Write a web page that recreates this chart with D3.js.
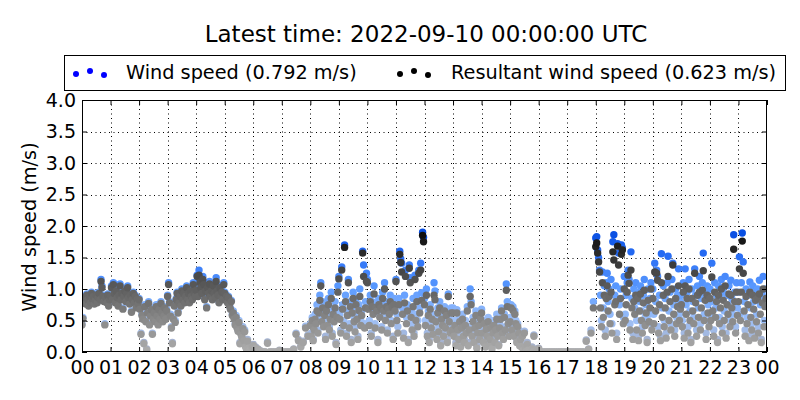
<!DOCTYPE html>
<html>
<head>
<meta charset="utf-8">
<script src="https://d3js.org/d3.v7.min.js"></script>
<style>
  body { margin: 0; background: #fff; }
  svg text { font-family: "DejaVu Sans", sans-serif; fill: #000; }
</style>
</head>
<body>
<svg id="chart" width="800" height="400"></svg>
<script>
// values, one row per hour (00 .. 23)
const windSpeed = [
  [0.45,0.55,0.82,0.88,0.78,0.92,0.85,0.75,0.9,0.8,0.95,0.86,0.9,0.78,0.84,0.92,0.8,0.88,0.95,0.85,1.15,1.05,0.9,0.82,0.45,0.88,0.8,0.92,0.75,0.85],
  [0.9,1.05,0.85,1.1,0.95,0.8,1.0,0.88,0.75,0.92,1.08,0.85,0.95,0.7,0.9,1.0,0.82,0.95,1.05,0.88,0.78,0.92,0.65,0.85,0.95,0.8,0.9,0.72,0.85,0.78],
  [0.85,0.7,0.3,0.6,0.55,0.15,0.75,0.5,0.05,0.65,0.8,0.45,0.6,0.7,0.3,0.55,0.65,0.5,0.75,0.6,0.45,0.7,0.55,0.8,0.65,0.5,0.6,0.72,0.55,0.68],
  [0.9,1.1,0.8,0.6,0.4,0.15,0.55,0.75,0.5,0.85,0.95,0.65,0.8,0.9,0.75,1.0,0.85,0.95,0.8,0.9,1.05,0.85,0.95,0.8,1.0,0.9,0.85,1.1,0.95,0.9],
  [1.0,1.22,0.9,1.3,1.15,1.05,0.95,1.2,1.1,0.85,1.0,0.72,1.05,0.95,1.12,0.9,1.0,0.85,1.08,0.95,0.88,1.18,1.0,0.92,0.8,1.05,0.9,0.98,0.85,1.1],
  [0.95,0.85,0.9,0.8,0.88,0.75,0.7,0.82,0.6,0.65,0.55,0.45,0.58,0.4,0.35,0.5,0.15,0.3,0.25,0.4,0.2,0.35,0.1,0.05,0.2,0.08,0.03,0.02,0.05,0.1],
  [0.12,0.08,0.05,0.02,0,0,0.16,0,0,0,0,0.03],
  [0,0,0,0,0,0.05,0.3,0.2,0.1,0.17,0.41,0.27],
  [0.45,0.3,0.55,0.2,0.4,0.6,0.5,0.75,0.35,0.7,0.9,1.1,0.55,0.8,0.45,0.65,0.25,0.72,0.5,0.85,0.4,0.6,0.95,0.3,0.7,0.55,0.8,0.15,0.65,1.05],
  [1.2,0.6,0.35,1.35,0.75,0.5,1.7,0.9,0.3,0.65,1.15,0.45,0.8,0.2,0.7,0.95,0.55,0.4,0.85,0.6,0.25,0.75,1.0,0.5,0.65,1.6,1.38,0.45,0.8,1.25],
  [1.15,0.75,0.5,0.9,0.3,0.8,0.65,1.05,0.45,0.78,0.7,0.2,0.85,0.6,0.75,0.4,0.95,0.7,1.1,0.55,0.8,0.35,0.72,0.65,0.9,0.5,0.78,0.25,0.85,0.7],
  [1.15,0.6,0.4,0.85,1.6,1.48,1.41,0.7,0.3,0.9,1.3,0.55,0.75,0.2,1.38,1.18,0.65,0.45,0.85,0.3,1.22,0.6,0.9,0.5,1.3,0.7,1.41,0.94,1.9,1.82],
  [0.85,0.5,1.0,0.3,0.65,0.2,0.75,0.45,0.6,0.35,1.1,0.97,0.55,0.25,0.7,0.4,0.8,0.15,0.6,0.5,0.3,0.72,0.45,0.65,0.2,0.92,0.55,0.35,0.7,0.4],
  [0.7,0.3,0.5,0.15,0.67,0.4,0.25,0.55,0.1,0.45,0.6,0.3,0.2,0.5,0.35,0.72,0.15,0.4,1.0,0.8,0.3,0.55,0.2,0.45,0.65,0.1,0.35,0.5,0.25,0.6],
  [0.68,0.35,0.2,0.5,0.1,0.42,0.3,0.55,0.15,0.25,0.45,0.08,0.35,0.5,0.2,0.4,0.6,0.3,0.12,0.45,0.55,0.7,0.35,0.25,0.6,0.4,1.08,0.8,0.5,0.3],
  [0.55,0.75,0.4,0.72,0.3,0.65,0.5,0.2,0.45,0.35,0.15,0.25,0.1,0.3,0.05,0.33,0.1,0.02,0.15,0.05,0,0.02,0,0.08,0,0.27,0.02,0,0.05,0],
  [0.06,0,0,0,0,0,0,0,0,0,0,0],
  [0,0,0,0,0,0,0,0,0.19,0.05,0.35,0.8],
  [1.81,1.83,1.62,1.5,1.3,0.9,0.5,1.27,0.7,1.05,0.35,1.1,1.25,0.8,1.0,0.6,1.15,0.45,1.75,1.86,0.9,1.05,0.3,1.72,1.57,0.75,1.0,1.7,1.65,0.55],
  [1.2,0.6,0.9,1.1,1.3,1.15,0.45,1.59,0.85,0.3,1.0,0.7,1.1,0.5,0.95,0.25,0.8,1.05,0.65,0.4,0.9,1.15,0.55,0.75,0.2,1.0,0.6,0.85,1.1,0.45],
  [1.0,0.6,1.41,0.8,1.3,1.2,0.4,0.9,0.25,1.56,0.7,1.05,0.5,0.85,0.3,1.1,1.52,0.65,0.95,0.45,1.15,1.41,0.75,0.35,1.0,0.55,0.9,1.32,0.6,0.8],
  [0.9,0.5,1.1,0.3,1.32,0.75,0.95,0.4,1.15,0.65,0.2,1.0,0.8,0.55,1.32,0.9,0.35,1.05,0.7,1.2,0.45,0.85,1.1,1.57,0.6,0.95,0.3,1.05,0.75,0.5],
  [1.0,0.6,1.41,0.8,0.35,1.1,0.7,0.9,0.2,1.05,0.55,0.85,1.15,0.4,0.95,0.65,1.2,0.3,0.9,0.75,1.05,0.5,1.14,0.85,0.6,1.86,0.95,0.4,1.1,0.7],
  [0.95,1.51,0.6,1.1,1.89,1.43,0.8,0.35,1.0,0.55,0.9,0.25,1.11,0.7,0.45,1.05,0.8,0.3,0.95,0.6,1.0,0.4,1.14,0.75,0.2,0.9,1.2,0.5,0.85,1.0]
];
const resultantSpeed = [
  [0.43,0.53,0.8,0.86,0.76,0.9,0.83,0.73,0.88,0.78,0.93,0.84,0.88,0.76,0.82,0.9,0.78,0.86,0.93,0.83,1.12,1.02,0.88,0.8,0.43,0.86,0.78,0.9,0.73,0.83],
  [0.88,1.02,0.83,1.07,0.93,0.78,0.97,0.86,0.73,0.9,1.05,0.83,0.93,0.68,0.88,0.97,0.8,0.93,1.02,0.86,0.76,0.9,0.63,0.83,0.93,0.78,0.88,0.7,0.83,0.76],
  [0.83,0.68,0.28,0.58,0.52,0.13,0.72,0.48,0.03,0.62,0.77,0.43,0.57,0.67,0.28,0.52,0.62,0.48,0.72,0.57,0.43,0.67,0.52,0.77,0.62,0.48,0.57,0.7,0.52,0.65],
  [0.88,1.07,0.78,0.57,0.38,0.13,0.52,0.73,0.47,0.83,0.93,0.62,0.78,0.88,0.73,0.97,0.83,0.93,0.78,0.88,1.02,0.83,0.93,0.78,0.97,0.88,0.83,1.07,0.93,0.88],
  [0.98,1.2,0.88,1.22,1.1,1.02,0.93,1.15,1.07,0.83,0.97,0.7,1.02,0.93,1.08,0.88,0.97,0.83,1.05,0.93,0.86,1.12,0.97,0.9,0.78,1.02,0.88,0.95,0.83,1.07],
  [0.93,0.83,0.88,0.78,0.86,0.73,0.68,0.8,0.58,0.62,0.52,0.43,0.55,0.38,0.33,0.47,0.13,0.28,0.23,0.37,0.18,0.32,0.08,0.04,0.17,0.06,0.02,0.01,0.03,0.08],
  [0.1,0.06,0.04,0.01,0,0,0.14,0,0,0,0,0.02],
  [0,0,0,0,0,0.04,0.28,0.18,0.08,0.15,0.38,0.25],
  [0.42,0.25,0.5,0.18,0.35,0.52,0.45,0.65,0.3,0.62,0.82,1.05,0.48,0.7,0.4,0.58,0.2,0.65,0.42,0.75,0.35,0.52,0.85,0.25,0.6,0.48,0.7,0.12,0.55,0.95],
  [1.16,0.52,0.3,1.3,0.68,0.42,1.66,0.8,0.25,0.58,1.1,0.38,0.72,0.15,0.62,0.85,0.48,0.32,0.75,0.52,0.2,0.66,0.88,0.42,0.58,1.57,1.2,0.38,0.7,1.12],
  [1.1,0.68,0.42,0.8,0.25,0.72,0.6,0.92,0.38,0.7,0.65,0.15,0.75,0.55,0.7,0.35,0.85,0.65,1.0,0.5,0.72,0.3,0.68,0.6,0.8,0.45,0.72,0.2,0.75,0.65],
  [1.12,0.5,0.3,0.75,1.55,1.42,1.27,0.6,0.22,0.78,1.2,0.45,0.65,0.15,1.33,1.1,0.55,0.35,0.72,0.25,1.15,0.5,0.8,0.4,1.25,0.62,1.3,0.82,1.85,1.75],
  [0.75,0.42,0.9,0.25,0.58,0.15,0.68,0.38,0.52,0.28,0.9,0.83,0.48,0.2,0.62,0.32,0.7,0.1,0.52,0.42,0.25,0.65,0.38,0.58,0.15,0.88,0.48,0.3,0.62,0.35],
  [0.62,0.25,0.42,0.1,0.62,0.35,0.2,0.48,0.08,0.38,0.52,0.25,0.15,0.42,0.3,0.65,0.1,0.35,0.88,0.75,0.25,0.48,0.15,0.38,0.58,0.06,0.3,0.42,0.2,0.52],
  [0.62,0.3,0.15,0.45,0.08,0.36,0.25,0.48,0.1,0.2,0.38,0.05,0.3,0.42,0.15,0.35,0.52,0.25,0.1,0.38,0.52,0.65,0.3,0.2,0.55,0.35,0.98,0.72,0.45,0.25],
  [0.48,0.7,0.35,0.66,0.25,0.6,0.45,0.15,0.4,0.3,0.1,0.2,0.08,0.25,0.03,0.3,0.08,0.01,0.12,0.03,0,0.01,0,0.05,0,0.25,0.01,0,0.03,0],
  [0.05,0,0,0,0,0,0,0,0,0,0,0],
  [0,0,0,0,0,0,0,0,0.17,0.04,0.3,0.7],
  [1.67,1.73,1.57,1.43,1.27,0.7,0.4,1.1,0.55,0.9,0.25,0.85,1.05,0.65,0.88,0.45,0.95,0.3,1.59,1.46,0.75,0.8,0.2,1.68,1.38,0.6,0.85,1.55,1.62,0.45],
  [1.0,0.5,0.75,0.95,1.22,1.09,0.35,1.3,0.7,0.2,0.8,0.6,0.9,0.35,0.85,0.18,0.65,0.92,0.5,0.3,0.78,0.98,0.42,0.62,0.15,0.82,0.48,0.7,1.0,0.35],
  [0.85,0.45,1.27,0.65,1.25,1.14,0.3,0.75,0.18,1.1,0.55,0.9,0.4,0.7,0.22,0.95,1.2,0.5,0.8,0.35,1.0,1.38,0.6,0.25,0.85,0.45,0.72,1.05,0.5,0.68],
  [0.75,0.4,0.95,0.22,1.05,0.6,0.85,0.3,1.0,0.5,0.15,0.85,0.65,0.45,1.25,0.78,0.25,0.9,0.55,0.95,0.35,0.7,0.98,1.29,0.5,0.82,0.2,0.9,0.62,0.4],
  [0.85,0.5,1.19,0.65,0.25,0.95,0.55,0.8,0.15,0.9,0.45,0.7,1.0,0.3,0.82,0.5,1.05,0.22,0.75,0.6,0.92,0.4,0.9,0.7,0.48,1.63,0.8,0.3,0.95,0.58],
  [0.8,1.32,0.5,0.95,1.76,1.25,0.65,0.25,0.88,0.45,0.75,0.18,0.95,0.55,0.35,0.9,0.68,0.22,0.82,0.48,0.85,0.3,0.92,0.6,0.15,0.78,1.0,0.4,0.72,0.85]
];
const hourLabels = ['00','01','02','03','04','05','06','07','08','09','10','11',
                    '12','13','14','15','16','17','18','19','20','21','22','23','00'];
const speedTicks = [0, 0.5, 1, 1.5, 2, 2.5, 3, 3.5, 4];
const titleText = 'Latest time: 2022-09-10 00:00:00 UTC';
const legendItems = ['Wind speed (0.792 m/s)', 'Resultant wind speed (0.623 m/s)'];

const svg = d3.select('#chart');
const plotLeft = 82, plotRight = 767, plotTop = 100, plotBottom = 352;

const x = d3.scaleLinear().domain([0, 24]).range([plotLeft, plotRight]);
const y = d3.scaleLinear().domain([0, 4]).range([plotBottom, plotTop]);

// shade by value, like the original colour maps
const windColor = d3.scaleLinear()
  .domain([0, 0.5, 1, 1.5, 2])
  .range(['#a9aec0', '#9ec0f8', '#5c9bff', '#2a6ff5', '#0046dc'])
  .clamp(true);
const resColor = d3.scaleLinear()
  .domain([0, 0.5, 1, 1.5, 2])
  .range(['#adadad', '#8a8a8a', '#5d5d5d', '#323232', '#000000'])
  .clamp(true);

function toPoints(rows) {
  const pts = [];
  rows.forEach((row, h) => {
    row.forEach((v, i) => pts.push({ t: h + i / row.length, v: v }));
  });
  return pts;
}
const windPts = toPoints(windSpeed);
const resPts = toPoints(resultantSpeed);

// title
svg.append('text')
  .attr('x', 426).attr('y', 42)
  .attr('text-anchor', 'middle')
  .style('font-size', '23px')
  .text(titleText);

// legend
const lg = svg.append('g');
lg.append('rect')
  .attr('x', 64.5).attr('y', 55.5)
  .attr('width', 721).attr('height', 35)
  .attr('fill', '#fff').attr('stroke', '#000');
const legendX = [76, 400];
const legendTextX = [126, 451];
const legendColors = ['#0000ff', '#000000'];
const dotDx = [0, 14, 28], dotDy = [2, -1, 3];
legendItems.forEach((label, k) => {
  dotDx.forEach((dx, j) => {
    lg.append('circle')
      .attr('cx', legendX[k] + dx).attr('cy', 72 + dotDy[j])
      .attr('r', 3).attr('fill', legendColors[k]);
  });
  lg.append('text')
    .attr('x', legendTextX[k]).attr('y', 78.5)
    .style('font-size', '19.3px')
    .text(label);
});

// grid
const grid = svg.append('g').attr('stroke', '#000').attr('stroke-width', 1)
  .attr('stroke-dasharray', '1,3.5');
grid.selectAll('.gx').data(d3.range(1, 24)).enter().append('line')
  .attr('x1', d => Math.round(x(d)) + 0.5).attr('x2', d => Math.round(x(d)) + 0.5)
  .attr('y1', plotTop).attr('y2', plotBottom);
grid.selectAll('.gy').data(speedTicks.slice(1, -1)).enter().append('line')
  .attr('y1', d => Math.round(y(d)) + 0.5).attr('y2', d => Math.round(y(d)) + 0.5)
  .attr('x1', plotLeft).attr('x2', plotRight);

// points, clipped to the plot area
svg.append('clipPath').attr('id', 'plotClip')
  .append('rect').attr('x', plotLeft).attr('y', plotTop)
  .attr('width', plotRight - plotLeft).attr('height', plotBottom - plotTop);
const pts = svg.append('g').attr('clip-path', 'url(#plotClip)');
pts.selectAll('.w').data(windPts).enter().append('circle')
  .attr('cx', d => x(d.t)).attr('cy', d => y(d.v))
  .attr('r', 3.7).attr('fill', d => windColor(d.v));
pts.selectAll('.r').data(resPts).enter().append('circle')
  .attr('cx', d => x(d.t)).attr('cy', d => y(d.v))
  .attr('r', 3.7).attr('fill', d => resColor(d.v));

// axes, ticks pointing inward on every side
const hourTicks = d3.range(0, 25);
const axisFont = g => g.selectAll('text').style('font-family', '"DejaVu Sans", sans-serif')
  .style('font-size', '19px').attr('fill', '#000');

svg.append('g').attr('transform', `translate(0,${plotBottom})`)
  .call(d3.axisBottom(x).tickValues(hourTicks).tickSizeInner(-5).tickSizeOuter(0)
    .tickPadding(9).tickFormat((d, i) => hourLabels[i]))
  .call(g => g.select('.domain').remove())
  .call(axisFont);
svg.append('g').attr('transform', `translate(0,${plotTop})`)
  .call(d3.axisTop(x).tickValues(hourTicks).tickSizeInner(-5).tickSizeOuter(0).tickFormat(''))
  .call(g => g.select('.domain').remove());
svg.append('g').attr('transform', `translate(${plotLeft},0)`)
  .call(d3.axisLeft(y).tickValues(speedTicks).tickSizeInner(-5).tickSizeOuter(0)
    .tickPadding(6).tickFormat(d3.format('.1f')))
  .call(g => g.select('.domain').remove())
  .call(axisFont);
svg.append('g').attr('transform', `translate(${plotRight},0)`)
  .call(d3.axisRight(y).tickValues(speedTicks).tickSizeInner(-5).tickSizeOuter(0).tickFormat(''))
  .call(g => g.select('.domain').remove());

// frame
svg.append('rect')
  .attr('x', plotLeft + 0.5).attr('y', plotTop + 0.5)
  .attr('width', plotRight - plotLeft - 1).attr('height', plotBottom - plotTop - 1)
  .attr('fill', 'none').attr('stroke', '#000').attr('stroke-width', 1);

// y label
svg.append('text')
  .attr('transform', `translate(36,${(plotTop + plotBottom) / 2 + 1}) rotate(-90)`)
  .attr('text-anchor', 'middle')
  .style('font-size', '19.3px')
  .text('Wind speed (m/s)');
</script>
</body>
</html>
